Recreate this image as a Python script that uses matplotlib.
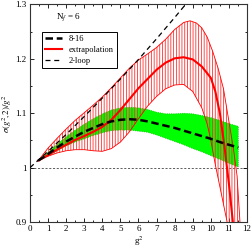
import numpy as np
import matplotlib
matplotlib.use("Agg")
import matplotlib.pyplot as plt
from matplotlib.ticker import MultipleLocator, FuncFormatter

# perturbative 2-loop curve
g2_loop = [0, 1, 2, 3, 4, 5, 6, 7, 8, 9]
sig_loop = [1.000, 1.030, 1.061, 1.094, 1.128, 1.163, 1.199, 1.237, 1.276, 1.316]

# 8-16 band (green) and its central value
g2_816 = [0.46, 1.0, 1.5, 2.0, 2.5, 3.0, 3.5, 4.0, 4.5, 5.0, 5.5, 6.0, 6.5, 7.0,
          7.5, 8.0, 8.5, 9.0, 9.5, 10.0, 10.5, 11.0, 11.52]
hi_816 = [1.013, 1.028, 1.043, 1.057, 1.069, 1.080, 1.090, 1.099, 1.106, 1.110,
          1.111, 1.110, 1.107, 1.102, 1.099, 1.099, 1.100, 1.099, 1.096, 1.092,
          1.087, 1.081, 1.076]
lo_816 = [1.013, 1.022, 1.031, 1.040, 1.047, 1.053, 1.059, 1.064, 1.068, 1.069,
          1.069, 1.067, 1.065, 1.060, 1.054, 1.048, 1.042, 1.035, 1.029, 1.022,
          1.015, 1.008, 1.001]
mid_816 = [1.013, 1.025, 1.037, 1.048, 1.057, 1.066, 1.073, 1.080, 1.085, 1.088,
           1.089, 1.088, 1.085, 1.081, 1.077, 1.073, 1.068, 1.063, 1.058, 1.053,
           1.047, 1.042, 1.037]

# extrapolation: central line and band edges
g2_ext = [0.46, 1.0, 1.5, 2.0, 2.5, 3.0, 3.5, 4.0, 4.5, 5.0, 5.5, 6.0, 6.5, 7.0,
          7.5, 8.0, 8.5, 9.0, 9.5, 10.0, 10.25, 10.5, 10.75, 11.0, 11.25]
sig_ext = [1.013, 1.023, 1.033, 1.042, 1.051, 1.058, 1.066, 1.075, 1.088, 1.106,
           1.126, 1.146, 1.163, 1.180, 1.193, 1.201, 1.203, 1.199, 1.186, 1.165,
           1.140, 1.100, 1.040, 0.970, 0.890]

g2_up = [0.46, 1.0, 1.5, 2.0, 2.5, 3.0, 3.5, 4.0, 4.5, 5.0, 5.5, 6.0, 6.5, 7.0,
         7.5, 8.0, 8.5, 8.85, 9.2, 9.5, 9.8, 10.1, 10.4, 10.7, 11.0, 11.25,
         11.45, 11.65]
sig_up = [1.013, 1.036, 1.054, 1.071, 1.087, 1.101, 1.115, 1.130, 1.147, 1.165,
          1.183, 1.198, 1.209, 1.221, 1.236, 1.254, 1.267, 1.270, 1.266, 1.257,
          1.240, 1.214, 1.183, 1.145, 1.085, 1.035, 0.985, 0.880]

g2_lo = [0.46, 1.0, 1.5, 2.0, 2.5, 3.0, 3.5, 4.0, 4.5, 5.0, 5.5, 6.0, 6.5, 7.0,
         7.5, 8.0, 8.5, 9.0, 9.5, 9.8, 10.0, 10.25, 10.5, 10.9, 11.1]
sig_lo = [1.013, 1.021, 1.027, 1.031, 1.033, 1.033, 1.031, 1.030, 1.035, 1.047,
          1.066, 1.090, 1.113, 1.131, 1.145, 1.152, 1.153, 1.140, 1.110, 1.080,
          1.050, 1.005, 0.965, 0.900, 0.870]

plt.rcParams['font.family'] = ['Liberation Serif', 'DejaVu Serif']
plt.rcParams['mathtext.fontset'] = 'stix'
plt.rcParams['hatch.linewidth'] = 0.6
plt.rcParams['hatch.color'] = '#ff3030'

fig = plt.figure(figsize=(2.53, 2.48), dpi=100)
ax = fig.add_axes([30/253, 26/248, 217/253, 217.5/248])

# green band
ax.fill_between(g2_816, lo_816, hi_816, facecolor='#00ff00',
                edgecolor='#00aa00', linestyle=':', linewidth=0.5, zorder=2)

# red hatched band
poly_x = np.concatenate([g2_up, g2_lo[::-1]])
poly_y = np.concatenate([sig_up, sig_lo[::-1]])
ax.fill(poly_x, poly_y, facecolor='none', edgecolor='#ff3030', hatch='||||||',
        linewidth=0.01, zorder=3)
ax.plot(g2_up, sig_up, color='red', lw=0.6, zorder=4)
ax.plot(g2_lo, sig_lo, color='red', lw=0.6, zorder=4)

# reference line at 1
ax.axhline(1.0, color='#444444', lw=0.6, dashes=(2.5, 2), zorder=1)

ax.plot(g2_816, mid_816, color='black', lw=1.8, dashes=(3, 1.5), zorder=6,
        label='8-16')
ax.plot(g2_ext, sig_ext, color='red', lw=1.5, zorder=5, label='extrapolation')
ax.plot(g2_loop, sig_loop, color='black', lw=0.9, dashes=(4, 3), zorder=6,
        label='2-loop')

ax.set_xlim(0, 12)
ax.set_ylim(0.9, 1.3)
ax.xaxis.set_major_locator(MultipleLocator(1))
ax.xaxis.set_minor_locator(MultipleLocator(0.5))
ax.yaxis.set_major_locator(MultipleLocator(0.1))
ax.yaxis.set_minor_locator(MultipleLocator(0.05))
ax.yaxis.set_major_formatter(FuncFormatter(lambda v, p: '%g' % round(v, 2)))
ax.tick_params(which='both', direction='in', top=True, right=True,
               labelsize=6.5, width=0.6, pad=2.5)
ax.tick_params(which='major', length=3)
ax.tick_params(which='minor', length=1.5)
for s in ax.spines.values():
    s.set_linewidth(0.8)
    s.set_color('#333333')

ax.set_xlabel('g$^2$', fontsize=6.5, labelpad=1)
ax.set_ylabel(r'$\sigma(g^2\!,2)/g^2$', fontsize=6.5, labelpad=1)

ax.text(0.175, 0.943, r'N$_f$ = 6', transform=ax.transAxes, fontsize=6.5,
        ha='center', va='center')

leg = ax.legend(loc='upper left', bbox_to_anchor=(0.055, 0.875), fontsize=6,
                borderaxespad=0, handlelength=2.0, labelspacing=0.35,
                borderpad=0.4, handletextpad=0.8, fancybox=False, framealpha=1)
leg.get_frame().set_edgecolor('black')
leg.get_frame().set_linewidth(0.7)

fig.savefig('out.png', dpi=100)
